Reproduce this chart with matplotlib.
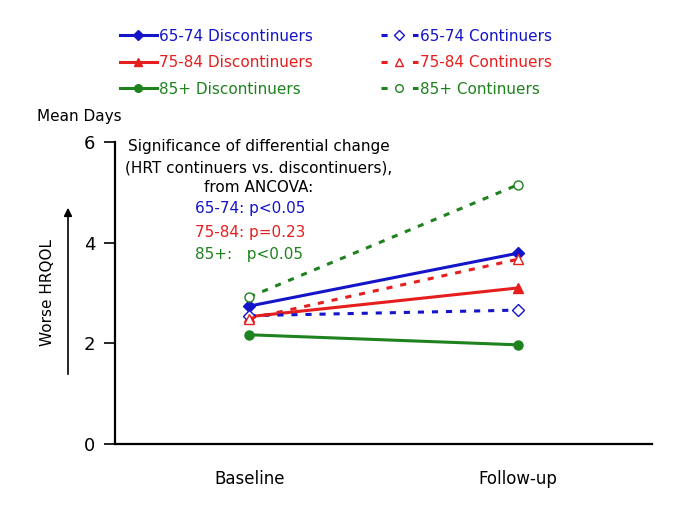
import matplotlib
matplotlib.use("Agg")
import matplotlib.pyplot as plt
from matplotlib.lines import Line2D

plt.rcParams['font.family'] = ['DejaVu Sans']

# data
timepoints = ["Baseline", "Follow-up"]
disc_6574 = [2.74, 3.79]
disc_7584 = [2.53, 3.10]
disc_85 = [2.17, 1.97]
cont_6574 = [2.55, 2.66]
cont_7584 = [2.49, 3.67]
cont_85 = [2.92, 5.15]
pvals = ["65-74: p<0.05", "75-84: p=0.23", "85+:   p<0.05"]

blue = '#1414C8'
red = '#E61E1E'
green = '#1E821E'

W, H = 685, 513
fig = plt.figure(figsize=(6.85, 5.13), dpi=100)
ax = fig.add_axes([115 / W, 1 - 444 / H, (652 - 115) / W, (444 - 142) / H])

x = [0, 1]
lw = 2.2
ax.plot(x, disc_6574, color=blue, lw=lw, marker='D', ms=6)
ax.plot(x, disc_7584, color=red, lw=lw, marker='^', ms=7)
ax.plot(x, disc_85, color=green, lw=lw, marker='o', ms=6.5)
dash = (2, 2.6)
ax.plot(x, cont_6574, color=blue, lw=lw, ls=(0, dash), marker='D', ms=6, mfc='white', mew=1)
ax.plot(x, cont_7584, color=red, lw=lw, ls=(0, dash), marker='^', ms=7, mfc='white', mew=1)
ax.plot(x, cont_85, color=green, lw=lw, ls=(0, dash), marker='o', ms=6.5, mfc='white', mew=1)

ax.set_xlim(-0.5, 1.5)
ax.set_ylim(0, 6)
ax.set_yticks([0, 2, 4, 6])
ax.set_xticks(x)
ax.set_xticklabels(timepoints)
ax.tick_params(axis='x', length=0, pad=19, labelsize=12)
ax.tick_params(axis='y', direction='out', length=8, width=1.2, labelsize=13, pad=6)
for s in ['top', 'right']:
    ax.spines[s].set_visible(False)
for s in ['left', 'bottom']:
    ax.spines[s].set_linewidth(1.6)

# annotation
cx = 259 / W
fig.text(cx, 1 - 147 / H, "Significance of differential change", ha='center', va='center', fontsize=11)
fig.text(cx, 1 - 168 / H, "(HRT continuers vs. discontinuers),", ha='center', va='center', fontsize=11)
fig.text(cx, 1 - 188 / H, "from ANCOVA:", ha='center', va='center', fontsize=11)
for i, (t, c) in enumerate(zip(pvals, [blue, red, green])):
    fig.text(195 / W, 1 - (209 + 23 * i) / H, t, ha='left', va='center', fontsize=11, color=c)

fig.text(37 / W, 1 - 117 / H, "Mean Days", ha='left', va='center', fontsize=11)
fig.text(48 / W, 1 - 292 / H, "Worse HRQOL", ha='center', va='center', rotation=90, fontsize=11)
ax.annotate("", xy=(68 / W, 1 - 205 / H), xytext=(68 / W, 1 - 377 / H),
            xycoords='figure fraction', textcoords='figure fraction',
            arrowprops=dict(arrowstyle='-|>', color='black', lw=1.2, mutation_scale=12))

# legend
ldash = (0, (2.0, 8.3))
handles = [
    Line2D([], [], color=blue, lw=lw, marker='D', ms=5),
    Line2D([], [], color=red, lw=lw, marker='^', ms=6),
    Line2D([], [], color=green, lw=lw, marker='o', ms=5.5),
    Line2D([], [], color=blue, lw=lw, ls=ldash, marker='D', ms=5, mfc='white', mew=1),
    Line2D([], [], color=red, lw=lw, ls=ldash, marker='^', ms=6, mfc='white', mew=1),
    Line2D([], [], color=green, lw=lw, ls=ldash, marker='o', ms=5.5, mfc='white', mew=1),
]
labels = ["65-74 Discontinuers", "75-84 Discontinuers", "85+ Discontinuers",
          "65-74 Continuers", "75-84 Continuers", "85+ Continuers"]
leg = fig.legend(handles, labels, ncol=2, frameon=False, loc='upper left',
                 bbox_to_anchor=(106 / W, 1 - 15 / H), fontsize=11,
                 handlelength=2.45, handletextpad=0.15, columnspacing=4.4, labelspacing=0.75)
for txt, c in zip(leg.get_texts(), [blue, red, green, blue, red, green]):
    txt.set_color(c)

fig.savefig("out.png", dpi=100)
